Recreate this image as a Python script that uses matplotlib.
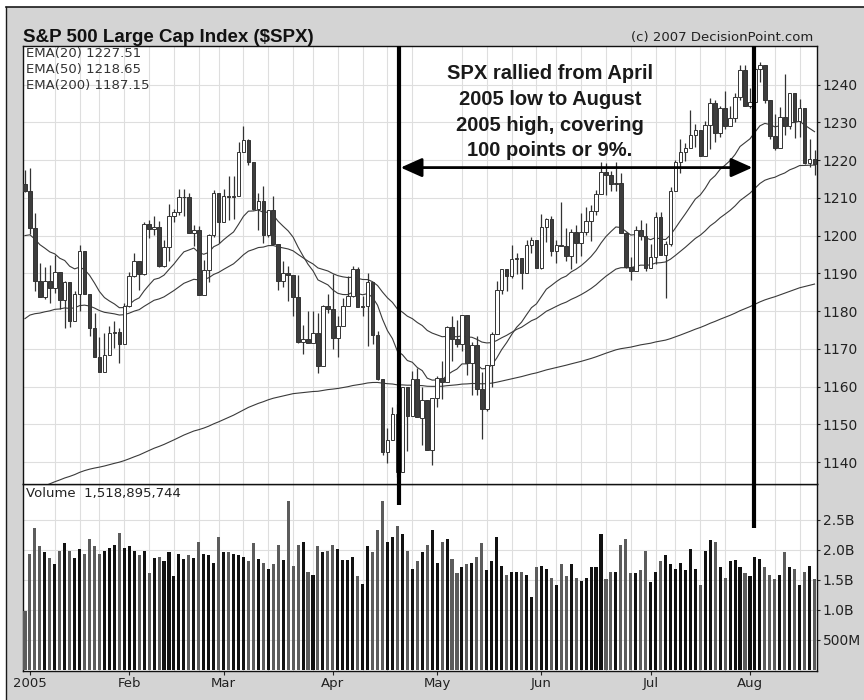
import numpy as np
import pandas as pd
import matplotlib
matplotlib.use("Agg")
import matplotlib.pyplot as plt
from matplotlib.patches import Rectangle, FancyArrowPatch
from matplotlib.lines import Line2D
import matplotlib.transforms as mtransforms

# ---------------- data (Dec 31 2004 .. Aug 18 2005, trading days) ----------------
opens = [1213.55, 1211.92, 1202.08, 1188.05, 1183.74, 1187.89, 1186.19, 1190.25, 1182.99, 1187.70,
         1177.45, 1184.52, 1195.98, 1184.63, 1175.41, 1167.87, 1163.75, 1168.41, 1174.07, 1174.55,
         1171.36, 1181.27, 1189.41, 1193.19, 1189.89, 1203.03, 1201.72, 1202.30, 1191.99, 1197.01,
         1205.30, 1206.14, 1210.12, 1210.34, 1200.75, 1201.59, 1184.16, 1190.80, 1200.20, 1211.37,
         1203.60, 1210.41, 1210.08, 1210.47, 1222.12, 1225.31, 1219.43, 1207.01, 1209.25, 1200.08,
         1206.83, 1197.75, 1188.07, 1190.21, 1189.65, 1183.78, 1171.71, 1172.53, 1171.42, 1174.28,
         1165.36, 1181.41, 1180.59, 1172.92, 1176.12, 1181.39, 1184.07, 1191.14, 1181.20, 1181.21,
         1187.76, 1173.79, 1162.05, 1142.62, 1145.98, 1152.78, 1137.50, 1159.95, 1152.12, 1162.10,
         1151.74, 1156.38, 1143.22, 1156.85, 1162.16, 1161.17, 1175.65, 1172.63, 1171.35, 1178.84,
         1166.22, 1171.11, 1159.36, 1154.05, 1165.69, 1173.80, 1185.56, 1191.08, 1189.28, 1193.86,
         1194.07, 1190.01, 1197.62, 1198.78, 1191.50, 1202.27, 1204.29, 1196.02, 1197.51, 1197.26,
         1194.67, 1200.93, 1198.11, 1200.82, 1203.91, 1206.55, 1210.93, 1216.96, 1216.10, 1213.61,
         1213.88, 1200.73, 1191.57, 1190.69, 1201.57, 1199.85, 1191.33, 1194.44, 1204.99, 1194.94,
         1197.87, 1211.86, 1219.44, 1222.21, 1223.29, 1226.50, 1227.92, 1221.13, 1229.35, 1235.20,
         1227.04, 1233.68, 1229.03, 1231.16, 1236.79, 1243.72, 1234.18, 1235.35, 1244.12, 1245.04,
         1235.86, 1226.42, 1223.13, 1231.38, 1229.13, 1237.81, 1230.40, 1233.87, 1219.34, 1220.24]

highs = [1217.33, 1217.80, 1205.84, 1192.73, 1191.63, 1192.20, 1194.78, 1190.25, 1187.92, 1187.70,
         1185.21, 1197.46, 1195.98, 1184.63, 1179.45, 1173.03, 1174.30, 1175.96, 1177.50, 1175.61,
         1182.07, 1190.39, 1195.25, 1193.19, 1203.47, 1204.15, 1205.11, 1203.83, 1198.75, 1208.38,
         1206.93, 1212.44, 1212.44, 1211.33, 1202.92, 1202.48, 1193.52, 1200.42, 1212.15, 1211.37,
         1212.25, 1215.79, 1215.72, 1224.76, 1229.11, 1225.69, 1219.43, 1211.23, 1213.04, 1206.83,
         1210.54, 1197.75, 1193.28, 1191.98, 1189.65, 1189.59, 1176.26, 1180.11, 1179.91, 1179.39,
         1181.54, 1184.53, 1189.80, 1178.61, 1183.56, 1189.34, 1191.88, 1191.75, 1184.07, 1190.17,
         1187.76, 1174.67, 1162.05, 1148.92, 1154.67, 1155.50, 1159.95, 1159.95, 1164.05, 1164.80,
         1159.87, 1156.38, 1156.97, 1162.87, 1166.89, 1176.01, 1178.62, 1177.75, 1178.87, 1178.84,
         1171.77, 1173.37, 1163.75, 1165.75, 1174.35, 1187.90, 1191.09, 1191.22, 1197.44, 1195.29,
         1194.07, 1198.95, 1199.56, 1198.78, 1205.64, 1204.67, 1205.09, 1198.78, 1208.85, 1201.97,
         1201.86, 1202.79, 1206.03, 1207.53, 1208.08, 1212.10, 1219.55, 1219.10, 1217.13, 1219.59,
         1216.45, 1200.90, 1194.33, 1202.54, 1204.07, 1203.27, 1197.89, 1206.34, 1206.11, 1198.46,
         1212.73, 1220.03, 1225.54, 1224.46, 1233.16, 1229.53, 1227.92, 1230.34, 1236.56, 1235.83,
         1234.19, 1238.36, 1234.42, 1237.64, 1245.15, 1245.04, 1239.10, 1244.69, 1245.86, 1245.04,
         1235.86, 1232.28, 1234.11, 1242.69, 1237.81, 1237.81, 1236.24, 1233.87, 1225.49, 1222.64]

lows = [1211.65, 1200.32, 1185.39, 1183.72, 1183.27, 1182.16, 1184.80, 1180.43, 1175.64, 1175.81,
        1177.45, 1180.01, 1184.41, 1173.42, 1167.82, 1163.75, 1163.75, 1168.41, 1170.15, 1166.25,
        1171.36, 1180.95, 1188.92, 1185.64, 1189.67, 1199.27, 1200.16, 1191.54, 1191.54, 1193.28,
        1203.59, 1205.52, 1205.06, 1200.74, 1197.35, 1184.16, 1184.16, 1187.80, 1199.61, 1198.13,
        1203.60, 1204.22, 1204.45, 1210.47, 1222.12, 1218.57, 1206.66, 1201.41, 1198.15, 1199.51,
        1197.75, 1185.61, 1186.34, 1182.78, 1178.82, 1171.63, 1168.70, 1171.42, 1171.42, 1163.69,
        1165.36, 1179.49, 1169.91, 1167.72, 1176.12, 1181.39, 1183.81, 1181.13, 1178.69, 1170.85,
        1171.40, 1161.70, 1141.92, 1139.80, 1145.98, 1136.15, 1137.50, 1142.95, 1152.12, 1151.83,
        1144.42, 1143.22, 1139.19, 1154.71, 1156.71, 1161.17, 1166.77, 1170.50, 1169.38, 1162.98,
        1157.71, 1157.76, 1146.18, 1153.64, 1159.86, 1173.80, 1184.49, 1185.19, 1188.76, 1189.87,
        1185.96, 1190.01, 1195.28, 1191.50, 1191.03, 1198.42, 1194.55, 1192.75, 1197.26, 1193.33,
        1191.09, 1192.64, 1194.51, 1200.18, 1198.66, 1205.47, 1210.93, 1210.65, 1211.86, 1211.69,
        1200.72, 1191.45, 1188.30, 1190.69, 1198.70, 1190.51, 1191.33, 1192.49, 1194.78, 1183.55,
        1197.20, 1211.86, 1216.60, 1219.64, 1223.29, 1223.50, 1221.13, 1221.13, 1222.91, 1224.70,
        1226.15, 1228.15, 1229.03, 1230.15, 1235.81, 1234.18, 1233.80, 1235.35, 1240.57, 1235.15,
        1225.62, 1222.67, 1223.13, 1226.58, 1228.33, 1225.87, 1226.20, 1219.05, 1218.07, 1215.93]

closes = [1211.92, 1202.08, 1188.05, 1183.74, 1187.89, 1186.19, 1190.25, 1182.99, 1187.70, 1177.45,
          1184.52, 1195.98, 1184.63, 1175.41, 1167.87, 1163.75, 1168.41, 1174.07, 1174.55, 1171.36,
          1181.27, 1189.41, 1193.19, 1189.89, 1203.03, 1201.72, 1202.30, 1191.99, 1197.01, 1205.30,
          1206.14, 1210.12, 1210.34, 1200.75, 1201.59, 1184.16, 1190.80, 1200.20, 1211.37, 1203.60,
          1210.41, 1210.08, 1210.47, 1222.12, 1225.31, 1219.43, 1207.01, 1209.25, 1200.08, 1206.83,
          1197.75, 1188.07, 1190.21, 1189.65, 1183.78, 1171.71, 1172.53, 1171.42, 1174.28, 1165.36,
          1181.41, 1180.59, 1172.92, 1176.12, 1181.39, 1184.07, 1191.14, 1181.20, 1181.21, 1187.76,
          1173.79, 1162.05, 1142.62, 1145.98, 1152.78, 1137.50, 1159.95, 1152.12, 1162.10, 1151.83,
          1156.38, 1143.22, 1156.85, 1162.16, 1161.17, 1175.65, 1172.63, 1171.35, 1178.84, 1166.22,
          1171.11, 1159.36, 1154.05, 1165.69, 1173.80, 1185.56, 1191.08, 1189.28, 1193.86, 1194.07,
          1190.01, 1197.62, 1198.78, 1191.50, 1202.22, 1204.29, 1196.02, 1197.51, 1197.26, 1194.67,
          1200.93, 1198.11, 1200.82, 1203.91, 1206.58, 1210.96, 1216.96, 1216.10, 1213.61, 1213.88,
          1200.73, 1191.57, 1190.69, 1201.57, 1199.85, 1191.33, 1194.44, 1204.99, 1194.94, 1197.87,
          1211.86, 1219.44, 1222.21, 1223.29, 1226.50, 1227.92, 1221.13, 1229.35, 1235.20, 1227.04,
          1233.68, 1229.03, 1231.16, 1236.79, 1243.72, 1234.18, 1235.35, 1244.12, 1245.04, 1235.86,
          1226.42, 1223.13, 1231.38, 1229.13, 1237.81, 1230.39, 1233.87, 1219.34, 1220.24, 1219.02]

# volume in billions of shares
volumes = [0.98, 1.94, 2.37, 2.07, 1.97, 1.87, 1.76, 1.99, 2.11, 1.99,
           1.87, 2.02, 1.94, 2.18, 2.07, 1.94, 1.99, 2.04, 2.08, 2.28,
           2.04, 2.06, 1.99, 1.92, 1.99, 1.61, 1.87, 1.89, 1.81, 1.97,
           1.57, 1.94, 1.85, 1.92, 1.87, 2.13, 1.94, 1.92, 1.78, 2.21,
           1.97, 1.97, 1.94, 1.92, 1.89, 1.81, 2.11, 1.85, 1.78, 1.68,
           1.76, 2.09, 1.83, 2.82, 1.73, 2.09, 2.14, 1.64, 1.59, 2.06,
           1.97, 1.99, 2.09, 2.02, 1.83, 1.83, 1.89, 1.57, 1.44, 2.06,
           1.97, 2.33, 2.82, 2.14, 2.21, 2.40, 2.26, 1.99, 1.68, 1.81,
           1.97, 2.09, 2.34, 1.78, 2.13, 2.18, 1.85, 1.61, 1.71, 1.76,
           1.78, 1.89, 2.11, 1.66, 1.81, 2.21, 1.73, 1.59, 1.64, 1.64,
           1.64, 1.59, 1.21, 1.71, 1.73, 1.68, 1.54, 1.42, 1.76, 1.57,
           1.76, 1.54, 1.49, 1.54, 1.71, 1.71, 2.26, 1.52, 1.64, 1.64,
           2.09, 2.18, 1.61, 1.61, 1.66, 1.99, 1.47, 1.64, 1.81, 1.92,
           1.76, 1.68, 1.78, 1.66, 2.02, 1.68, 1.42, 1.99, 2.16, 2.13,
           1.71, 1.54, 1.81, 1.83, 1.71, 1.61, 1.57, 1.89, 1.85, 1.71,
           1.59, 1.52, 1.59, 1.97, 1.71, 1.68, 1.42, 1.64, 1.73, 1.52]

# EMA starting values on Dec 31 2004
ema_seeds = {20: 1200.0, 50: 1178.0, 200: 1131.4}

month_labels = ["2005", "Feb", "Mar", "Apr", "May", "Jun", "Jul", "Aug"]
month_start_idx = [1, 21, 40, 62, 83, 104, 126, 146]
week_start_idx = [1, 6, 11, 15, 20, 25, 30, 35, 39, 44, 49, 54, 58, 63, 68, 73, 78, 83,
                  88, 93, 98, 103, 107, 112, 117, 122, 127, 131, 136, 141, 146, 151, 156]

price_ticks = [1140, 1150, 1160, 1170, 1180, 1190, 1200, 1210, 1220, 1230, 1240]
vol_ticks = [0.5, 1.0, 1.5, 2.0, 2.5]
vol_tick_labels = ["500M", "1.0B", "1.5B", "2.0B", "2.5B"]

title = "S&P 500 Large Cap Index (\\$SPX)"
ema_labels = ["EMA(20) 1227.51", "EMA(50) 1218.65", "EMA(200) 1187.15"]
last_info = "1219.02  -1.22  -0.1%  8/18/05"
volume_label = "Volume  1,518,895,744"
note_lines = ["SPX rallied from April", "2005 low to August", "2005 high, covering", "100 points or 9%."]
low_idx, high_idx = 75.25, 146.9          # April low / August high markers
arrow_level = 1218.0

# ---------------- figure ----------------
W, H = 864, 700
fig = plt.figure(figsize=(W / 100, H / 100), dpi=100, facecolor="white")


def fx(px):
    return px / W


def fy(py):
    return 1 - py / H


fig.add_artist(Rectangle((fx(6), 0), 1 - fx(6), fy(7), transform=fig.transFigure,
                         facecolor="#d4d4d4", edgecolor="none", zorder=-5))
fig.add_artist(Line2D([fx(6), 1], [fy(7.3), fy(7.3)], transform=fig.transFigure, color="#1a1a1a", lw=1.2))
fig.add_artist(Line2D([fx(6), fx(6)], [0, fy(7.3)], transform=fig.transFigure, color="#1a1a1a", lw=1.0))

x0, x1 = 23, 817
ax = fig.add_axes([fx(x0), fy(484), fx(x1) - fx(x0), fy(46) - fy(484)])
axv = fig.add_axes([fx(x0), fy(671), fx(x1) - fx(x0), fy(484) - fy(671)])
ax.set_zorder(3)
axv.set_zorder(2)

n = len(closes)
x = np.arange(n)
o = np.array(opens)
h = np.array(highs)
l = np.array(lows)
c = np.array(closes)

grid_col = "#dedede"
for a in (ax, axv):
    a.set_facecolor("white")
    a.set_xlim(-0.4, 159.5)
    for s in a.spines.values():
        s.set_color("#111111")
        s.set_linewidth(1.0)
    a.set_xticks(month_start_idx)
    a.set_xticks(sorted(set(week_start_idx) | set(month_start_idx)), minor=True)
    a.grid(True, which="minor", axis="x", color=grid_col, lw=0.8)
    a.grid(True, which="major", axis="y", color=grid_col, lw=0.8)
    a.set_axisbelow(True)
    a.yaxis.tick_right()
    a.tick_params(axis="y", which="both", direction="out", length=2.5, width=0.8,
                  pad=1.5, labelsize=10, colors="#222222")
    a.tick_params(axis="x", which="minor", length=0)

# price panel
ax.set_ylim(1134.2, 1250.2)
ax.set_yticks(price_ticks)
ax.tick_params(axis="x", which="major", length=0, labelbottom=False)

for span in (20, 50, 200):
    seeded = pd.Series([ema_seeds[span]] + closes[1:])
    ema = seeded.ewm(span=span, adjust=False).mean()
    ax.plot(x, ema.values, color="#3a3a3a", lw=0.8, zorder=2)

up = c >= o
body_bot = np.minimum(o, c)
body_h = np.maximum(np.abs(c - o), 0.08)
ax.vlines(x, l, h, color="#333333", lw=0.9, zorder=3)
ax.bar(x, body_h, bottom=body_bot, width=0.72,
       color=np.where(up, "white", "#3d3d3d"), edgecolor="#333333", linewidth=0.7, zorder=4)

# volume panel
axv.set_ylim(-0.017, 3.1)
axv.set_yticks(vol_ticks)
axv.set_yticklabels(vol_tick_labels)
axv.set_xticklabels(month_labels)
axv.tick_params(axis="x", which="major", direction="out", length=3, width=0.8, pad=1,
                labelsize=9.5, colors="#222222")
prev = np.concatenate([[o[0]], c[:-1]])
vol_col = np.where(c > prev, "#111111", "#5c5c5c")
axv.bar(x, volumes, width=0.62, color=vol_col, zorder=3)

# annotation: vertical markers and arrow
trans = mtransforms.blended_transform_factory(ax.transData, ax.transAxes)
ax.plot([low_idx, low_idx], [1.0, (484 - 505) / 438], transform=trans, color="black",
        lw=3.0, clip_on=False, zorder=10, solid_capstyle="butt")
ax.plot([high_idx, high_idx], [1.0, (484 - 528) / 438], transform=trans, color="black",
        lw=3.0, clip_on=False, zorder=10, solid_capstyle="butt")
arr = FancyArrowPatch((low_idx + 0.4, arrow_level), (high_idx - 0.4, arrow_level),
                      arrowstyle="<|-|>,head_length=13,head_width=5.8", mutation_scale=1,
                      color="black", lw=2.0, shrinkA=0, shrinkB=0, zorder=11)
ax.add_patch(arr)

# texts
fig.text(fx(23), fy(41.5), title, fontsize=13.5, fontweight="bold", family="Liberation Sans",
         ha="left", va="baseline", color="#111111")
fig.text(fx(813.5), fy(37), "(c) 2007 DecisionPoint.com", fontsize=9.5, ha="right",
         va="center", color="#222222")
fig.text(fx(812), fy(55), last_info, fontsize=9.5, ha="right", va="center", color="#222222",
         zorder=1)
for yy, t in zip([54, 69.5, 85], ema_labels):
    fig.text(fx(26.5), fy(yy), t, fontsize=9.5, ha="left", va="center", color="#333333")
fig.text(fx(26.5), fy(493.5), volume_label, fontsize=9.5, ha="left", va="center", color="#222222")
for yy, t in zip([79, 105, 131, 156], note_lines):
    fig.text(fx(550), fy(yy), t, fontsize=14.5, fontweight="bold", family="Liberation Sans",
             ha="center", va="baseline", color="#1a1a1a")

fig.savefig("out.png", dpi=100, facecolor=fig.get_facecolor())
